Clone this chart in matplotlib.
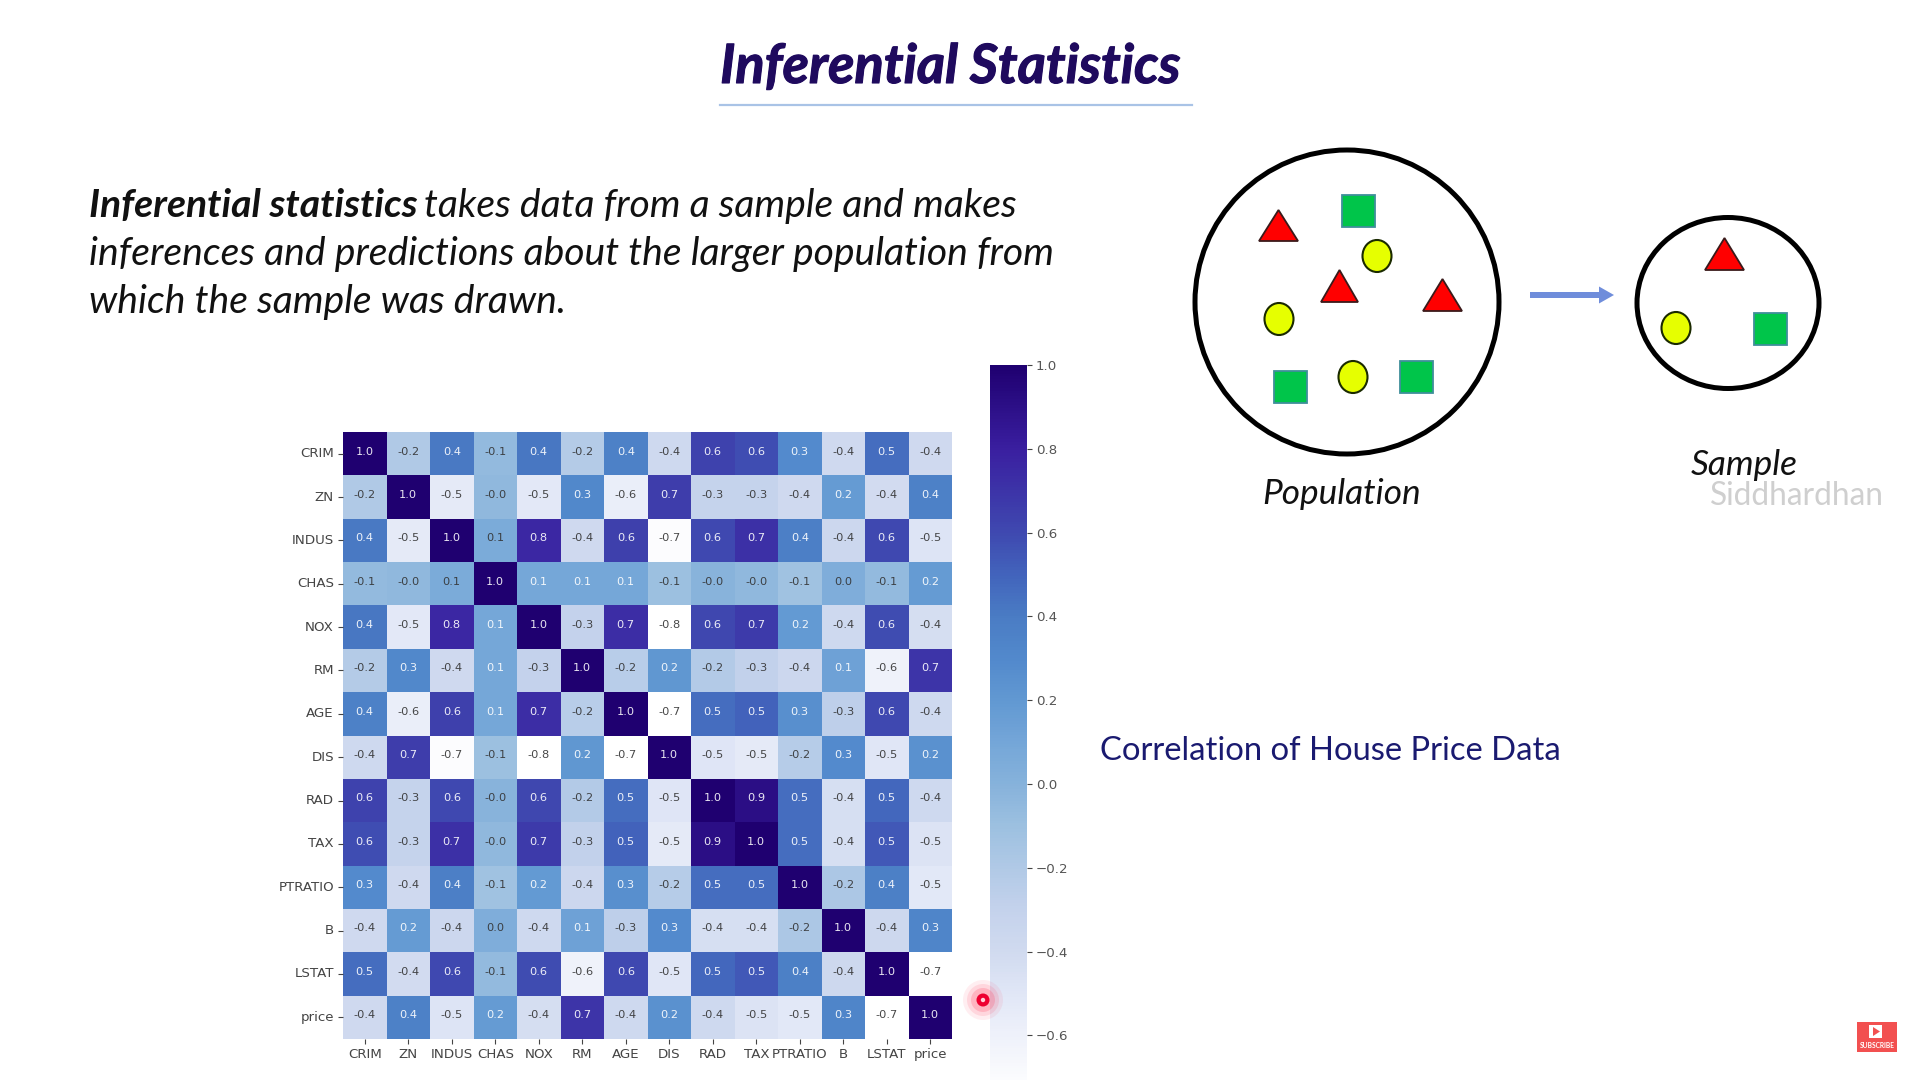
import numpy as np
import matplotlib
matplotlib.use('Agg')
import matplotlib.pyplot as plt
import matplotlib.patheffects as pe
from matplotlib.colors import LinearSegmentedColormap
from matplotlib.patches import Circle, Ellipse, Polygon, Rectangle, FancyArrow

labels = ['CRIM', 'ZN', 'INDUS', 'CHAS', 'NOX', 'RM', 'AGE', 'DIS', 'RAD', 'TAX', 'PTRATIO', 'B', 'LSTAT', 'price']

crim = [1.0, -.20, .41, -.06, .42, -.22, .36, -.38, .63, .58, .29, -.39, .46, -.39]
zn = [-.20, 1.0, -.53, -.04, -.52, .31, -.57, .66, -.31, -.31, -.39, .18, -.41, .36]
indus = [.41, -.53, 1.0, .06, .76, -.39, .64, -.71, .60, .72, .38, -.36, .60, -.48]
chas = [-.06, -.04, .06, 1.0, .09, .09, .09, -.10, -.01, -.04, -.12, .04, -.06, .18]
nox = [.42, -.52, .76, .09, 1.0, -.30, .73, -.77, .61, .67, .19, -.38, .59, -.43]
rm = [-.22, .31, -.39, .09, -.30, 1.0, -.24, .21, -.21, -.29, -.36, .13, -.61, .70]
age = [.36, -.57, .64, .09, .73, -.24, 1.0, -.74, .46, .51, .26, -.27, .60, -.38]
dis = [-.38, .66, -.71, -.10, -.77, .21, -.74, 1.0, -.49, -.53, -.23, .29, -.50, .25]
rad = [.63, -.31, .60, -.01, .61, -.21, .46, -.49, 1.0, .91, .46, -.44, .49, -.38]
tax = [.58, -.31, .72, -.04, .67, -.29, .51, -.53, .91, 1.0, .46, -.44, .54, -.47]
ptratio = [.29, -.39, .38, -.12, .19, -.36, .26, -.23, .46, .46, 1.0, -.18, .37, -.51]
b = [-.39, .18, -.36, .04, -.38, .13, -.27, .29, -.44, -.44, -.18, 1.0, -.37, .33]
lstat = [.46, -.41, .60, -.06, .59, -.61, .60, -.50, .49, .54, .37, -.37, 1.0, -.74]
price = [-.39, .36, -.48, .18, -.43, .70, -.38, .25, -.38, -.47, -.51, .33, -.74, 1.0]

corr = np.array([crim, zn, indus, chas, nox, rm, age, dis, rad, tax, ptratio, b, lstat, price])

cbar_ticks = [-0.6, -0.4, -0.2, 0.0, 0.2, 0.4, 0.6, 0.8, 1.0]

W, H = 1920, 1080
VMIN, VMAX = -0.74, 1.0

# colours sampled along the colour bar
stops = [(-0.74, '#ffffff'), (-0.6, '#eef1fa'), (-0.5, '#e0e6f6'), (-0.4, '#d0daef'),
         (-0.3, '#c4d2ec'), (-0.2, '#b0c9e6'), (-0.1, '#9cc0e0'), (0.0, '#86b2db'),
         (0.1, '#74a6d8'), (0.2, '#6198d2'), (0.3, '#5289cc'), (0.4, '#4a7cc4'),
         (0.5, '#4264bc'), (0.6, '#3f49b0'), (0.8, '#3a1fa0'), (1.0, '#1f0070')]
cmap = LinearSegmentedColormap.from_list('corr', [((v - VMIN) / (VMAX - VMIN), c) for v, c in stops])

plt.rcParams['font.family'] = ['Lato', 'DejaVu Sans']
fig = plt.figure(figsize=(19.2, 10.8), dpi=100, facecolor='white')


def px_axes(x0, y0, x1, y1):
    # axes from pixel box, y counted from the top
    return fig.add_axes([x0 / W, 1 - y1 / H, (x1 - x0) / W, (y1 - y0) / H])


# slide layer in pixel coordinates
bg = fig.add_axes([0, 0, 1, 1])
bg.set_xlim(0, W)
bg.set_ylim(H, 0)
bg.axis('off')

bg.text(950, 83, 'Inferential Statistics', ha='center', va='baseline', fontsize=39,
        fontweight='bold', style='italic', color='#1f0a5e',
        path_effects=[pe.withStroke(linewidth=0.8, foreground='#1f0a5e')])
bg.plot([720, 1192], [104.5, 104.5], color='#a9c3e6', lw=1.6)

# body text, bold lead-in followed by italic
BODY = 28.2
lead = bg.text(89, 217, 'Inferential statistics', fontsize=BODY, fontweight='bold',
               style='italic', color='#111111', va='baseline')
fig.canvas.draw()
ext = lead.get_window_extent()
bg.text(ext.x1 + 6, 217, 'takes data from a sample and makes', fontsize=BODY, style='italic',
        color='#111111', va='baseline')
bg.text(89, 265, 'inferences and predictions about the larger population from', fontsize=BODY,
        style='italic', color='#111111', va='baseline')
bg.text(89, 313, 'which the sample was drawn.', fontsize=BODY, style='italic',
        color='#111111', va='baseline')

bg.text(1100, 760, 'Correlation of House Price Data', fontsize=23.6, color='#1a1a70', va='baseline')

# population / sample diagram
bg.add_patch(Circle((1347, 302), 152, fc='white', ec='black', lw=3.6))
bg.add_patch(Ellipse((1728, 303), 182, 171, fc='white', ec='black', lw=3.6))
for x0, x1, y0, y1 in [(1259, 1298, 210, 241), (1321, 1358, 270, 302), (1423, 1462, 279, 311), (1705, 1744, 238, 270)]:
    bg.add_patch(Polygon([(x0, y1), (x1, y1), ((x0 + x1) / 2, y0)], fc='#ff0000', ec='#3a1a1a', lw=1.3))
for x0, x1, y0, y1 in [(1342, 1375, 195, 227), (1274, 1307, 371, 403), (1400, 1433, 361, 393), (1754, 1787, 313, 345)]:
    bg.add_patch(Rectangle((x0, y0), x1 - x0, y1 - y0, fc='#00c54a', ec='#3f8f9a', lw=1.3))
for cx, cy in [(1377, 256), (1279, 319), (1353, 377), (1676, 328)]:
    bg.add_patch(Ellipse((cx, cy), 29, 32, fc='#e6ff00', ec='#1a2a00', lw=1.5))
bg.add_patch(FancyArrow(1530, 295, 84, 0, width=6, head_width=17, head_length=15,
                        length_includes_head=True, fc='#6f8ddb', ec='none'))
bg.text(1342, 504, 'Population', ha='center', va='baseline', fontsize=25.4, style='italic', color='#111111')
bg.text(1744, 475, 'Sample', ha='center', va='baseline', fontsize=25.4, style='italic', color='#111111')
bg.text(1796.5, 505, 'Siddhardhan', ha='center', va='baseline', fontsize=22.8, color='#cfcfcf')

# heatmap
ax = px_axes(343, 432, 952, 1039)
mesh = ax.pcolormesh(corr, cmap=cmap, vmin=VMIN, vmax=VMAX)
ax.invert_yaxis()
ticks = np.arange(len(labels)) + 0.5
ax.set_xticks(ticks)
ax.set_xticklabels(labels, family='DejaVu Sans', fontsize=9.6, color='#444444')
ax.set_yticks(ticks)
ax.set_yticklabels(labels, family='DejaVu Sans', fontsize=9.6, color='#444444', rotation=0, va='center')
ax.tick_params(length=3.5, width=0.8, color='#444444', pad=3)
for s in ax.spines.values():
    s.set_visible(False)
for i in range(corr.shape[0]):
    for j in range(corr.shape[1]):
        c = 'white' if corr[i, j] > 0.07 else '#333333'
        ax.text(j + 0.5, i + 0.45, '%.1f' % corr[i, j], ha='center', va='center',
                family='DejaVu Sans', fontsize=8.2, color=c, alpha=0.9)

# colour bar runs past the bottom of the slide
cax = px_axes(990, 365, 1027, 1094)
cbar = fig.colorbar(mesh, cax=cax)
cbar.set_ticks(cbar_ticks)
cbar.ax.tick_params(length=3.5, width=0.8, color='#444444', labelsize=9.6, labelcolor='#555555', pad=3)
for t in cbar.ax.get_yticklabels():
    t.set_family('DejaVu Sans')
cbar.outline.set_visible(False)

# recording cursor and subscribe badge on top
top = fig.add_axes([0, 0, 1, 1], facecolor='none')
top.set_xlim(0, W)
top.set_ylim(H, 0)
top.axis('off')
for r, a in [(20, 0.08), (16, 0.12), (12, 0.2)]:
    top.add_patch(Circle((983, 1000), r, fc='#ff3050', ec='none', alpha=a))
top.add_patch(Circle((983, 1000), 6.5, fc='#ee0030', ec='none'))
top.add_patch(Circle((983, 1000), 2.2, fc='#ffd0d8', ec='none'))
top.add_patch(Rectangle((1857, 1022), 40, 30, fc='#f25050', ec='none'))
top.add_patch(Rectangle((1869, 1025), 13, 13, fc='white', ec='none'))
top.add_patch(Polygon([(1873, 1027), (1873, 1036), (1880, 1031.5)], fc='#f25050', ec='none'))
top.text(1877, 1045, 'SUBSCRIBE', ha='center', va='center', fontsize=4.8, fontweight='bold', color='white')

fig.savefig('out.png', dpi=100)
